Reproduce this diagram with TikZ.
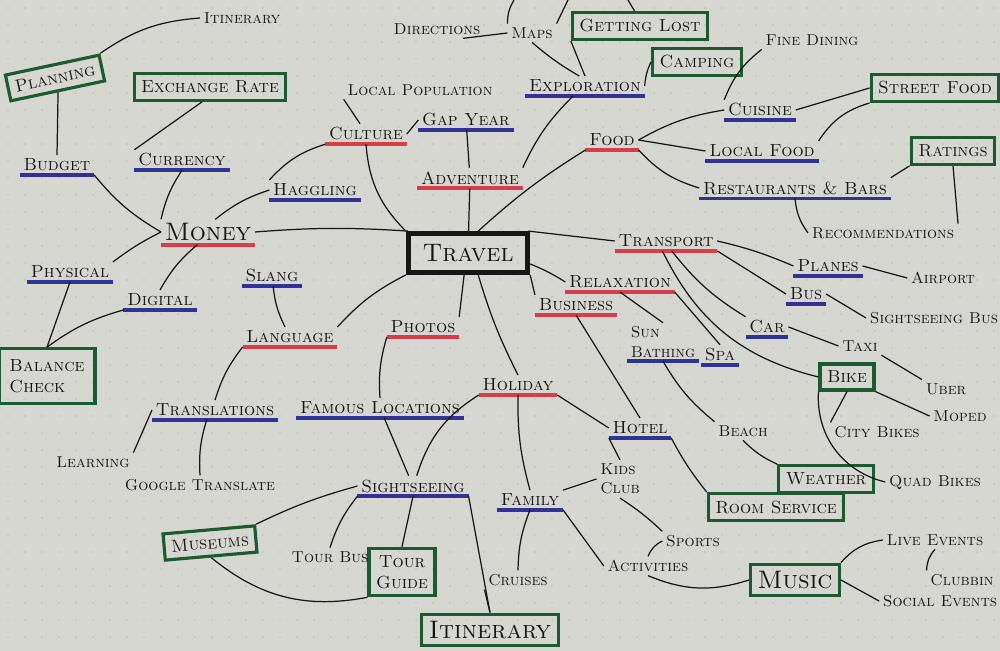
\documentclass[tikz,border=0pt]{standalone}
\usepackage{tikz}
\usetikzlibrary{positioning}
\definecolor{paper}{RGB}{214,215,209}
\definecolor{dotgrey}{RGB}{188,190,184}
\definecolor{ink}{RGB}{22,22,22}
\definecolor{inkred}{RGB}{214,62,74}
\definecolor{inkblue}{RGB}{48,50,150}
\definecolor{inkgreen}{RGB}{26,92,48}
\tikzstyle{link} = [
    line width=0.7pt,
    draw=ink
]
\tikzstyle{hub} = [
    rectangle,
    draw=ink,
    line width=3pt,
    inner xsep=8pt,
    inner ysep=6pt,
    text=ink,
    font=\Large\scshape
]
\tikzstyle{topic} = [
    inner sep=2pt,
    text=ink,
    font=\normalsize\scshape,
    append after command={(\tikzlastnode.south west) edge[draw=inkred, line width=2.2pt] (\tikzlastnode.south east)}
]
\tikzstyle{subtopic} = [
    inner sep=2pt,
    text=ink,
    font=\normalsize\scshape,
    append after command={(\tikzlastnode.south west) edge[draw=inkblue, line width=2pt] (\tikzlastnode.south east)}
]
\tikzstyle{idea} = [
    inner sep=2pt,
    text=ink,
    font=\small\scshape
]
\tikzstyle{action} = [
    rectangle,
    draw=inkgreen,
    line width=1.8pt,
    inner sep=4pt,
    align=center,
    text=ink,
    font=\normalsize\scshape
]

\begin{document}
\begin{tikzpicture}[x=0.02cm, y=-0.02cm]
        % Paper with dot grid
        \fill[paper] (0,0) rectangle (1000,651);
        \useasboundingbox (0,0) rectangle (1000,651);
        \foreach \x in {8,25,...,1000} {
            \foreach \y in {8,25,...,651} {
                \fill[dotgrey] (\x,\y) circle (0.5pt);
            }
        }

        % Centre
        \node[hub] (travel) at (468,253) {Travel};

        % Main topics
        \node[topic, font=\Large\scshape] (money) at (208,232) {Money};
        \node[topic] (culture) at (366,134) {Culture};
        \node[topic] (adventure) at (470,178) {Adventure};
        \node[topic] (food) at (612,140) {Food};
        \node[topic] (transport) at (666,241) {Transport};
        \node[topic] (relaxation) at (620,282) {Relaxation};
        \node[topic] (business) at (576,305) {Business};
        \node[topic] (language) at (290,337) {Language};
        \node[topic] (photos) at (423,327) {Photos};
        \node[topic] (holiday) at (518,385) {Holiday};

        % Sub topics
        \node[subtopic] (budget) at (57,165) {Budget};
        \node[subtopic] (currency) at (182,160) {Currency};
        \node[subtopic] (haggling) at (315,190) {Haggling};
        \node[subtopic] (physical) at (70,272) {Physical};
        \node[subtopic] (digital) at (160,300) {Digital};
        \node[subtopic] (slang) at (272,276) {Slang};
        \node[subtopic] (translations) at (215,410) {Translations};
        \node[subtopic] (famous) at (380,408) {Famous Locations};
        \node[subtopic] (sightseeing) at (413,486) {Sightseeing};
        \node[subtopic] (gapyear) at (466,120) {Gap Year};
        \node[subtopic] (exploration) at (585,86) {Exploration};
        \node[subtopic] (cuisine) at (760,110) {Cuisine};
        \node[subtopic] (localfood) at (762,151) {Local Food};
        \node[subtopic] (restaurants) at (795,188) {Restaurants \& Bars};
        \node[subtopic] (planes) at (828,266) {Planes};
        \node[subtopic] (bus) at (806,294) {Bus};
        \node[subtopic] (car) at (767,327) {Car};
        \node[subtopic, align=left, font=\small\scshape] (sunbathing) at (663,342) {Sun\\Bathing};
        \node[subtopic] (spa) at (720,355) {Spa};
        \node[subtopic] (hotel) at (640,428) {Hotel};
        \node[subtopic] (family) at (530,500) {Family};

        % Boxed ideas
        \node[action, rotate=12] (planning) at (55,78) {Planning};
        \node[action] (exchange) at (210,87) {Exchange Rate};
        \node[action, align=left, inner sep=6pt] (balance) at (47,376) {Balance\\Check};
        \node[action] (gettinglost) at (640,26) {Getting Lost};
        \node[action] (camping) at (697,62) {Camping};
        \node[action] (streetfood) at (935,88) {Street Food};
        \node[action] (ratings) at (953,151) {Ratings};
        \node[action] (bike) at (847,377) {Bike};
        \node[action] (weather) at (826,479) {Weather};
        \node[action] (roomservice) at (776,507) {Room Service};
        \node[action, rotate=5] (museums) at (210,543) {Museums};
        \node[action] (tourguide) at (402,572) {Tour\\Guide};
        \node[action, font=\Large\scshape] (itinerarybox) at (490,630) {Itinerary};
        \node[action, font=\Large\scshape] (music) at (795,580) {Music};

        % Plain ideas
        \node[idea] (itinerary) at (242,18) {Itinerary};
        \node[idea] (localpop) at (420,90) {Local Population};
        \node[idea] (directions) at (437,29) {Directions};
        \node[idea] (maps) at (532,33) {Maps};
        \node[idea] (finedining) at (812,40) {Fine Dining};
        \node[idea] (recommend) at (883,233) {Recommendations};
        \node[idea] (airport) at (943,278) {Airport};
        \node[idea] (sightbus) at (934,318) {Sightseeing Bus};
        \node[idea] (taxi) at (860,346) {Taxi};
        \node[idea] (uber) at (946,389) {Uber};
        \node[idea] (moped) at (960,416) {Moped};
        \node[idea] (citybikes) at (877,432) {City Bikes};
        \node[idea] (quadbikes) at (935,482) {Quad Bikes};
        \node[idea] (beach) at (743,431) {Beach};
        \node[idea, align=left] (kidsclub) at (620,479) {Kids\\Club};
        \node[idea] (sports) at (693,541) {Sports};
        \node[idea] (activities) at (648,566) {Activities};
        \node[idea] (cruises) at (518,580) {Cruises};
        \node[idea] (liveevents) at (935,540) {Live Events};
        \node[idea] (clubbin) at (962,580) {Clubbin};
        \node[idea] (socialevents) at (940,601) {Social Events};
        \node[idea] (learning) at (93,462) {Learning};
        \node[idea] (googletr) at (200,485) {Google Translate};
        \node[idea] (tourbus) at (330,557) {Tour Bus};

        % Free ends at the top edge
        \coordinate (mapsup) at (514,0);
        \coordinate (mapsright) at (568,0);
        \coordinate (lostup) at (628,0);

        % Travel
        \draw[link] (money.east) to[bend left=4] (travel.160);
        \draw[link] (culture.south) to[bend right=20] (travel.north west);
        \draw[link] (adventure) -- (travel);
        \draw[link] (travel.65) to[bend left=5] (food.south west);
        \draw[link] (travel.20) -- (transport.west);
        \draw[link] (travel.-10) to[bend left=5] (relaxation.west);
        \draw[link] (travel.south east) -- (business.north west);
        \draw[link] (travel.-65) to[bend right=5] (holiday.north);
        \draw[link] (travel.-100) -- (photos.north east);
        \draw[link] (travel.south west) to[bend right=10] (language.north east);

        % Culture and adventure
        \draw[link] (culture.120) -- (localpop.south west);
        \draw[link] (culture.east) -- (gapyear.west);
        \draw[link] (gapyear) -- (adventure);
        \draw[link] (culture.south west) to[bend right=15] (haggling.north west);
        \draw[link] (adventure.north east) to[bend left=10] (exploration.-140);
        \draw[link] (exploration.120) to[bend left=5] (maps.south);
        \draw[link] (exploration.north) -- (gettinglost.south west);
        \draw[link] (exploration.east) to[bend left=10] (camping.west);
        \draw[link] (directions.-20) -- (maps.west);
        \draw[link] (maps.north west) to[bend left=15] (mapsup);
        \draw[link] (maps.north east) -- (mapsright);
        \draw[link] (gettinglost.110) -- (lostup);

        % Money
        \draw[link] (money.60) to[bend left=10] (haggling.west);
        \draw[link] (money.north west) to[bend left=10] (currency.south);
        \draw[link] (money.west) to[bend left=10] (budget.south east);
        \draw[link] (money.west) to[bend right=5] (physical.north east);
        \draw[link] (money.-130) to[bend right=10] (digital.north);
        \draw[link] (budget.north) -- (planning.south);
        \draw[link] (currency.north west) -- (exchange.-118);
        \draw[link] (planning.north east) to[bend left=15] (itinerary.west);
        \draw[link] (physical.south) -- (balance.north);
        \draw[link] (digital.south west) to[bend right=10] (balance.north);

        % Language and photos
        \draw[link] (slang) to[bend right=10] (language);
        \draw[link] (language.south west) to[bend right=10] (translations.north);
        \draw[link] (translations.west) -- (learning.north east);
        \draw[link] (translations.-130) to[bend right=10] (googletr.north);
        \draw[link] (photos.south west) to[bend right=10] (famous.north);
        \draw[link] (famous) -- (sightseeing);
        \draw[link] (sightseeing.west) to[bend right=5] (museums.north east);
        \draw[link] (sightseeing.south west) to[bend right=10] (tourbus.north);
        \draw[link] (sightseeing.south) -- (tourguide.north);
        \draw[link] (sightseeing.south east) -- (itinerarybox.north);
        \draw[link] (museums.south) to[bend right=25] (tourguide.south west);

        % Holiday and business
        \draw[link] (holiday.south west) to[bend right=20] (sightseeing.70);
        \draw[link] (holiday.south) to[bend right=8] (family.north);
        \draw[link] (holiday.south east) -- (hotel.west);
        \draw[link] (business.south) -- (hotel.north);
        \draw[link] (hotel.south west) -- (kidsclub.north);
        \draw[link] (hotel.south east) to[bend right=5] (roomservice.north west);
        \draw[link] (kidsclub.west) -- (family.north east);
        \draw[link] (kidsclub.south) to[bend left=5] (sports.north west);
        \draw[link] (family.south east) -- (activities.west);
        \draw[link] (family.south) to[bend right=10] (cruises.north);
        \draw[link] (cruises.south west) -- (itinerarybox.north);
        \draw[link] (sports.west) to[bend right=20] (activities.north);
        \draw[link] (activities.south) to[bend right=20] (music.west);
        \draw[link] (music.north east) to[bend left=20] (liveevents.west);
        \draw[link] (music.east) -- (socialevents.west);
        \draw[link] (liveevents.south) to[bend right=20] (clubbin.north west);

        % Relaxation
        \draw[link] (relaxation.south) -- (sunbathing.north);
        \draw[link] (relaxation.south east) -- (spa.north);
        \draw[link] (sunbathing.south) to[bend right=10] (beach.north west);
        \draw[link] (beach.south) to[bend right=10] (weather.north west);

        % Transport
        \draw[link] (transport.east) to[bend left=5] (planes.west);
        \draw[link] (transport.south east) -- (bus.west);
        \draw[link] (transport.-60) to[bend right=10] (car.north west);
        \draw[link] (transport.-110) to[bend right=25] (bike.west);
        \draw[link] (planes.east) -- (airport.west);
        \draw[link] (bus.east) -- (sightbus.west);
        \draw[link] (car.east) -- (taxi.west);
        \draw[link] (taxi.south east) -- (uber.north west);
        \draw[link] (bike.south east) -- (moped.west);
        \draw[link] (bike.south) -- (citybikes.north west);
        \draw[link] (bike.south west) to[bend right=40] (quadbikes.west);

        % Food
        \draw[link] (food.east) to[bend left=10] (cuisine.west);
        \draw[link] (food.east) -- (localfood.west);
        \draw[link] (food.south east) to[bend right=15] (restaurants.west);
        \draw[link] (cuisine.north west) to[bend left=15] (finedining.south west);
        \draw[link] (cuisine.east) -- (streetfood.west);
        \draw[link] (localfood.north east) to[bend left=20] (streetfood.south west);
        \draw[link] (restaurants.north east) -- (ratings.south west);
        \draw[link] (restaurants.south) to[bend right=15] (recommend.west);
        \draw[link] (ratings.south) -- (recommend.north east);
    \end{tikzpicture}
\end{document}
